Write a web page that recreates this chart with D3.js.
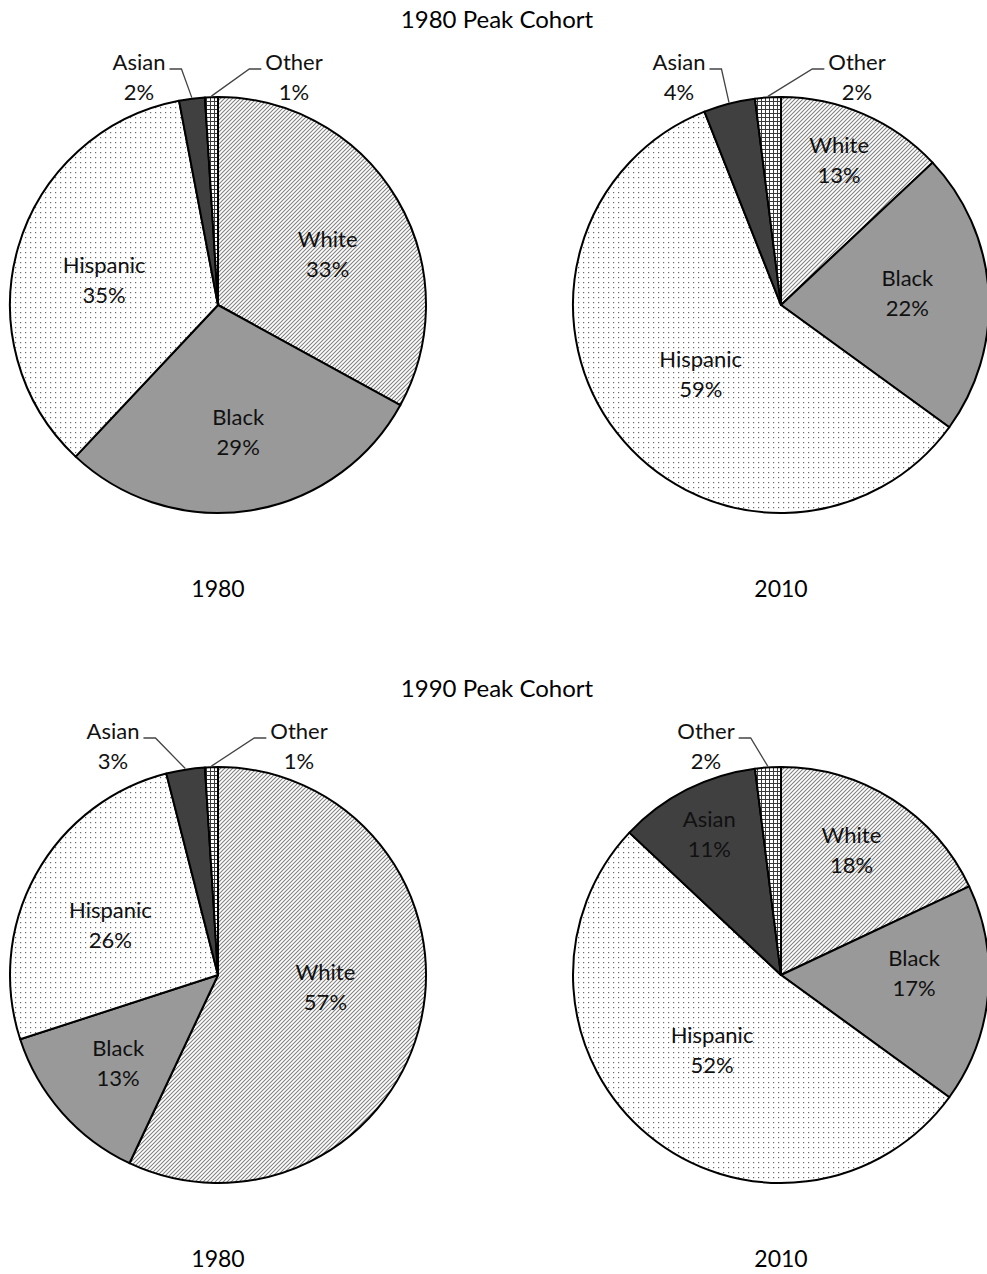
<!DOCTYPE html>
<html>
<head>
<meta charset="utf-8">
<script src="https://cdn.jsdelivr.net/npm/d3@7"></script>
<style>
  html, body { margin: 0; padding: 0; background: #fff; }
  svg { display: block; font-family: Lato, "Open Sans", sans-serif; }
</style>
</head>
<body>
<svg id="chart" width="987" height="1274"></svg>
<script>
// Race/ethnicity shares (%) of each peak cohort, at the peak year and in 2010
const categories = ["White", "Black", "Hispanic", "Asian", "Other"];
const cohort1980_in1980 = [33, 29, 35, 2, 1];
const cohort1980_in2010 = [13, 22, 59, 4, 2];
const cohort1990_in1980 = [57, 13, 26, 3, 1];
const cohort1990_in2010 = [18, 17, 52, 11, 2];
const groupTitles = ["1980 Peak Cohort", "1990 Peak Cohort"];
const yearLabels = ["1980", "2010", "1980", "2010"];

// Page layout for the four pies.
// inside: [radius fraction, angle nudge in degrees] for labels drawn within a slice
// outside: [dx, dy, side] for labels set above the pie with a leader line
const radius = 208;
const panels = [
  { values: cohort1980_in1980, cx: 218, cy: 305, year: yearLabels[0],
    inside: [[0.58, 6], [0.62, 0], [0.56, -4], null, null],
    outside: { Asian: [-79, -228, "left"], Other: [76, -228, "right"] } },
  { values: cohort1980_in2010, cx: 781, cy: 305, year: yearLabels[1],
    inside: [[0.75, -1.5], [0.61, -1.5], [0.51, -3], null, null],
    outside: { Asian: [-102, -228, "left"], Other: [76, -228, "right"] } },
  { values: cohort1990_in1980, cx: 218, cy: 975, year: yearLabels[2],
    inside: [[0.52, -6], [0.64, 0], [0.57, -4], null, null],
    outside: { Asian: [-105, -229, "left"], Other: [81, -229, "right"] } },
  { values: cohort1990_in2010, cx: 781, cy: 975, year: yearLabels[3],
    inside: [[0.69, -3], [0.64, -6], [0.49, 3], [0.76, 0], null],
    outside: { Other: [-75, -229, "left"] } }
];
const titlePos = [{ x: 497, y: 20 }, { x: 497, y: 689 }];
const yearOffsetY = 284;

const svg = d3.select("#chart");
const defs = svg.append("defs");

// Fill patterns: diagonal hatch, solid grey, dots, dark grey, fine grid
const hatch = defs.append("pattern").attr("id", "p-hatch")
  .attr("patternUnits", "userSpaceOnUse").attr("width", 4).attr("height", 4);
hatch.append("rect").attr("width", 4).attr("height", 4).attr("fill", "#fff");
hatch.append("path").attr("d", "M-1,1 L1,-1 M0,4 L4,0 M3,5 L5,3")
  .attr("stroke", "#808080").attr("stroke-width", 1.05);

const dots = defs.append("pattern").attr("id", "p-dots")
  .attr("patternUnits", "userSpaceOnUse").attr("width", 5).attr("height", 5);
dots.append("rect").attr("width", 5).attr("height", 5).attr("fill", "#fff");
dots.append("rect").attr("x", 2).attr("y", 2).attr("width", 1.2).attr("height", 1.2).attr("fill", "#6a6a6a");

const grid = defs.append("pattern").attr("id", "p-grid")
  .attr("patternUnits", "userSpaceOnUse").attr("width", 4).attr("height", 4);
grid.append("rect").attr("width", 4).attr("height", 4).attr("fill", "#fff");
grid.append("path").attr("d", "M0,0.5 H4 M0.5,0 V4")
  .attr("stroke", "#3a3a3a").attr("stroke-width", 1);

const fills = d3.scaleOrdinal()
  .domain(categories)
  .range(["url(#p-hatch)", "#999999", "url(#p-dots)", "#404040", "url(#p-grid)"]);

const pie = d3.pie().sort(null).value(d => d.value);
const arc = d3.arc().innerRadius(0).outerRadius(radius);

const labelSize = 22;
const lineGap = 30;

function twoLineLabel(g, x, y, name, pct) {
  const t = g.append("text")
    .attr("text-anchor", "middle")
    .attr("font-size", labelSize)
    .attr("fill", "#111");
  t.append("tspan").attr("x", x).attr("y", y - lineGap / 2).attr("dy", "0.35em").text(name);
  t.append("tspan").attr("x", x).attr("y", y + lineGap / 2).attr("dy", "0.35em").text(pct + "%");
  return t;
}

panels.forEach(p => {
  const data = categories.map((c, i) => ({ name: c, value: p.values[i] }));
  const arcs = pie(data);
  const g = svg.append("g").attr("transform", `translate(${p.cx},${p.cy})`);

  g.selectAll("path.slice")
    .data(arcs)
    .join("path")
    .attr("class", "slice")
    .attr("d", arc)
    .attr("fill", d => fills(d.data.name))
    .attr("stroke", "#000")
    .attr("stroke-width", 2)
    .attr("stroke-linejoin", "round");

  arcs.forEach((a, i) => {
    const mid = (a.startAngle + a.endAngle) / 2;
    const out = p.outside[a.data.name];
    if (out) {
      const [dx, dy, side] = out;
      const t = twoLineLabel(g, dx, dy, a.data.name, a.data.value);
      const w = t.select("tspan").node().getComputedTextLength();
      // leader from the label edge, short horizontal run, then to the arc
      const sx = side === "left" ? dx + w / 2 + 4 : dx - w / 2 - 4;
      const hx = side === "left" ? sx + 12 : sx - 12;
      const ly = dy - 8;
      const ex = Math.sin(mid) * (radius + 1);
      const ey = -Math.cos(mid) * (radius + 1);
      g.append("path")
        .attr("d", `M${sx},${ly} L${hx},${ly} L${ex},${ey}`)
        .attr("fill", "none").attr("stroke", "#444").attr("stroke-width", 1.3);
    } else {
      const [ratio, nudge] = p.inside[i];
      const ang = mid + nudge * Math.PI / 180;
      const rr = radius * ratio;
      twoLineLabel(g, Math.sin(ang) * rr, -Math.cos(ang) * rr, a.data.name, a.data.value);
    }
  });

  svg.append("text")
    .attr("x", p.cx).attr("y", p.cy + yearOffsetY)
    .attr("dy", "0.35em")
    .attr("text-anchor", "middle")
    .attr("font-size", 23)
    .attr("fill", "#000")
    .text(p.year);
});

groupTitles.forEach((t, i) => {
  svg.append("text")
    .attr("x", titlePos[i].x).attr("y", titlePos[i].y)
    .attr("dy", "0.35em")
    .attr("text-anchor", "middle")
    .attr("font-size", 24)
    .attr("fill", "#000")
    .text(t);
});
</script>
</body>
</html>
